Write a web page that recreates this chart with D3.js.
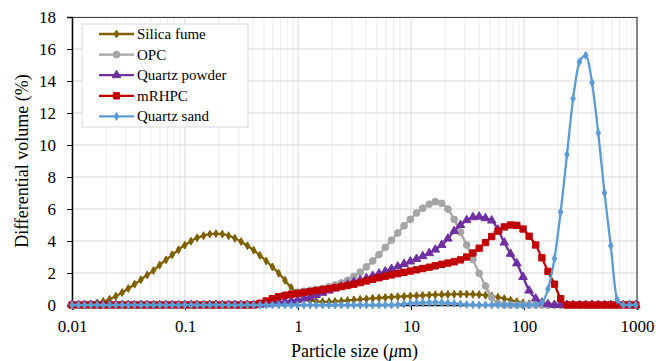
<!DOCTYPE html>
<html lang="en">
    <head>
        <style>
            body { margin: 0; background: #fff; }
            svg text { font-family: "Liberation Serif", "Times New Roman", Times, serif; fill: #000; }
        </style>
        <script src="https://d3js.org/d3.v7.min.js"></script>
        <title>Particle size distribution</title>
    </head>
    <body>
        <div id="chart"></div>
        <script>
            // particle size bins (um)
            var sizes = [
                0.0100, 0.0114, 0.0129, 0.0147, 0.0167, 0.0189, 0.0215, 0.0244, 0.0278, 0.0315,
                0.0358, 0.0407, 0.0463, 0.0526, 0.0597, 0.0679, 0.0771, 0.0876, 0.0995, 0.113,
                0.128, 0.146, 0.166, 0.188, 0.214, 0.243, 0.276, 0.314, 0.357, 0.405,
                0.460, 0.523, 0.594, 0.675, 0.767, 0.872, 0.991, 1.13, 1.28, 1.45,
                1.65, 1.88, 2.13, 2.42, 2.75, 3.12, 3.55, 4.03, 4.58, 5.21,
                5.92, 6.72, 7.64, 8.68, 9.86, 11.2, 12.7, 14.5, 16.4, 18.7,
                21.2, 24.1, 27.4, 31.1, 35.3, 40.1, 45.6, 51.8, 58.9, 66.9,
                76.0, 86.4, 98.1, 111, 127, 144, 163, 186, 211, 240,
                272, 310, 352, 400, 454, 516, 586, 666, 756, 859,
                976
            ];

            var silicaFume = [
                0, 0, 0.02, 0.06, 0.13, 0.22, 0.36, 0.55, 0.78, 1.03,
                1.3, 1.58, 1.88, 2.15, 2.5, 2.82, 3.14, 3.45, 3.74, 3.99,
                4.2, 4.33, 4.43, 4.46, 4.43, 4.33, 4.17, 3.96, 3.7, 3.42,
                3.1, 2.75, 2.38, 1.98, 1.55, 1.08, 0.72, 0.46, 0.3, 0.22,
                0.2, 0.2, 0.22, 0.25, 0.28, 0.32, 0.35, 0.38, 0.41, 0.44,
                0.47, 0.5, 0.52, 0.54, 0.56, 0.58, 0.6, 0.62, 0.64, 0.65,
                0.66, 0.67, 0.68, 0.68, 0.67, 0.65, 0.61, 0.56, 0.48, 0.4,
                0.3, 0.21, 0.13, 0.07, 0.03, 0.01, 0, 0, 0, 0,
                0, 0, 0, 0, 0, 0, 0, 0, 0, 0,
                0
            ];

            var opc = [
                0, 0, 0, 0, 0, 0, 0, 0, 0, 0,
                0, 0, 0, 0, 0, 0, 0, 0, 0, 0,
                0, 0, 0, 0, 0, 0, 0, 0, 0, 0.03,
                0.1, 0.22, 0.36, 0.5, 0.62, 0.72, 0.8, 0.86, 0.92, 0.98,
                1.05, 1.14, 1.25, 1.38, 1.55, 1.78, 2.05, 2.38, 2.75, 3.15,
                3.6, 4.05, 4.5, 4.95, 5.35, 5.75, 6.05, 6.3, 6.46, 6.35,
                6.0, 5.35, 4.55, 3.75, 2.85, 1.98, 1.19, 0.48, 0.1, 0,
                0, 0, 0, 0, 0, 0, 0, 0, 0, 0,
                0, 0, 0, 0, 0, 0, 0, 0, 0, 0,
                0
            ];

            var quartzPowder = [
                0, 0, 0, 0, 0, 0, 0, 0, 0, 0,
                0, 0, 0, 0, 0, 0, 0, 0, 0, 0,
                0, 0, 0, 0, 0, 0, 0, 0, 0, 0,
                0.02, 0.05, 0.1, 0.15, 0.2, 0.26, 0.32, 0.4, 0.5, 0.62,
                0.76, 0.9, 1.03, 1.15, 1.28, 1.42, 1.55, 1.68, 1.82, 1.96,
                2.1, 2.25, 2.4, 2.56, 2.72, 2.88, 3.05, 3.24, 3.46, 3.75,
                4.15, 4.62, 5.0, 5.3, 5.48, 5.52, 5.42, 5.28, 4.7, 3.9,
                3.2, 2.6, 1.75, 0.9, 0.4, 0.15, 0.05, 0, 0, 0,
                0, 0, 0, 0, 0, 0, 0, 0, 0, 0,
                0
            ];

            var mrhpc = [
                0, 0, 0, 0, 0, 0, 0, 0, 0, 0,
                0, 0, 0, 0, 0, 0, 0, 0, 0, 0,
                0, 0, 0, 0, 0, 0, 0, 0, 0, 0,
                0.1, 0.25, 0.4, 0.52, 0.6, 0.67, 0.73, 0.79, 0.84, 0.9,
                0.95, 1.02, 1.08, 1.15, 1.22, 1.3, 1.4, 1.5, 1.6, 1.7,
                1.8, 1.88, 1.96, 2.04, 2.12, 2.2, 2.28, 2.36, 2.45, 2.54,
                2.62, 2.7, 2.82, 3.0, 3.25, 3.55, 3.9, 4.28, 4.62, 4.88,
                5.0, 4.98, 4.75, 4.3, 3.75, 2.95, 2.1, 1.3, 0.4, 0,
                0, 0, 0, 0, 0, 0, 0, 0, 0, 0,
                0
            ];

            var quartzSand = [
                0, 0, 0, 0, 0, 0, 0, 0, 0, 0,
                0, 0, 0, 0, 0, 0, 0, 0, 0, 0,
                0, 0, 0, 0, 0, 0, 0, 0, 0, 0,
                0, 0, 0, 0, 0, 0, 0, 0, 0, 0,
                0, 0, 0, 0, 0, 0, 0, 0, 0, 0,
                0, 0, 0.02, 0.06, 0.1, 0.13, 0.15, 0.16, 0.16, 0.15,
                0.13, 0.1, 0.06, 0.03, 0.01, 0, 0, 0, 0, 0,
                0, 0, 0, 0, 0.02, 0.15, 1.0, 2.9, 5.8, 9.4,
                12.9, 15.2, 15.6, 13.9, 10.75, 7.0, 3.7, 0.35, 0, 0,
                0
            ];

            var seriesNames = ["Silica fume", "OPC", "Quartz powder", "mRHPC", "Quartz sand"];
            var seriesValues = [silicaFume, opc, quartzPowder, mrhpc, quartzSand];
            var colors = ["#7f6000", "#a5a5a5", "#7030a0", "#c00000", "#5b9bd5"];
            var symbols = [d3.symbolDiamond, d3.symbolCircle, d3.symbolTriangle, d3.symbolSquare, d3.symbolDiamond];
            var symbolSizes = [18, 36, 32, 40, 18];

            var xTicks = [0.01, 0.1, 1, 10, 100, 1000];
            var xTickLabels = ["0.01", "0.1", "1", "10", "100", "1000"];
            var yTicks = [0, 2, 4, 6, 8, 10, 12, 14, 16, 18];

            var margin = {top: 17, right: 19, bottom: 56, left: 72},
                width = 656 - margin.left - margin.right,
                height = 361 - margin.top - margin.bottom;

            var svg = d3.select("#chart")
                .append("svg")
                    .attr("width", 656)
                    .attr("height", 361)
                .append("g")
                    .attr("transform", "translate(" + margin.left + "," + margin.top + ")");

            var x = d3.scaleLog()
                .domain([0.01, 1000])
                .range([0, width]);

            var y = d3.scaleLinear()
                .domain([0, 18])
                .range([height, 0]);

            // minor vertical grid
            var minor = [];
            xTicks.slice(0, -1).forEach(function(t) {
                for (var k = 2; k < 10; k++) minor.push(t * k);
            });
            svg.append("g")
                .selectAll("line")
                .data(minor)
                .enter()
                .append("line")
                    .attr("x1", function(d) { return x(d); })
                    .attr("x2", function(d) { return x(d); })
                    .attr("y1", 0)
                    .attr("y2", height)
                    .attr("stroke", "#ececec")
                    .attr("stroke-width", 1);

            // major grid
            svg.append("g")
                .selectAll("line")
                .data(xTicks)
                .enter()
                .append("line")
                    .attr("x1", function(d) { return x(d); })
                    .attr("x2", function(d) { return x(d); })
                    .attr("y1", 0)
                    .attr("y2", height)
                    .attr("stroke", "#d9d9d9")
                    .attr("stroke-width", 1);

            svg.append("g")
                .selectAll("line")
                .data(yTicks)
                .enter()
                .append("line")
                    .attr("x1", 0)
                    .attr("x2", width)
                    .attr("y1", function(d) { return y(d); })
                    .attr("y2", function(d) { return y(d); })
                    .attr("stroke", "#d9d9d9")
                    .attr("stroke-width", 1);

            // plot frame (top and right)
            svg.append("path")
                .attr("d", "M0,0.5H" + width + "V" + height)
                .attr("fill", "none")
                .attr("stroke", "#404040")
                .attr("stroke-width", 1.2);

            // axes
            var xAxis = svg.append("g")
                .attr("transform", "translate(0," + height + ")")
                .call(d3.axisBottom(x)
                    .tickValues(xTicks)
                    .tickFormat(function(d, i) { return xTickLabels[i]; })
                    .tickSize(5)
                    .tickPadding(10));

            var yAxis = svg.append("g")
                .call(d3.axisLeft(y)
                    .tickValues(yTicks)
                    .tickSize(5)
                    .tickPadding(11));

            [xAxis, yAxis].forEach(function(a) {
                a.attr("font-family", null).attr("font-size", null);
                a.select(".domain").attr("stroke", "#000").attr("stroke-width", 1.5);
                a.selectAll(".tick line").attr("stroke", "#000");
                a.selectAll(".tick text").style("font-size", "17px");
            });

            // series
            var line = d3.line()
                .x(function(d) { return x(d[0]); })
                .y(function(d) { return y(d[1]); })
                .curve(d3.curveMonotoneX);

            seriesValues.forEach(function(vals, s) {
                var pts = sizes.map(function(sz, i) { return [sz, vals[i]]; });
                var g = svg.append("g");
                g.append("path")
                    .datum(pts)
                    .attr("d", line)
                    .attr("fill", "none")
                    .attr("stroke", colors[s])
                    .attr("stroke-width", 2.3);
                g.selectAll("path.mk")
                    .data(pts)
                    .enter()
                    .append("path")
                        .attr("class", "mk")
                        .attr("transform", function(d) { return "translate(" + x(d[0]) + "," + y(d[1]) + ")"; })
                        .attr("d", d3.symbol().type(symbols[s]).size(symbolSizes[s]))
                        .attr("fill", colors[s])
                        .attr("stroke", colors[s])
                        .attr("stroke-width", 1);
            });

            // legend
            var legend = svg.append("g")
                .attr("transform", "translate(10,7)");
            legend.append("rect")
                .attr("x", 0)
                .attr("y", 0)
                .attr("width", 166)
                .attr("height", 103)
                .attr("fill", "#fff")
                .attr("stroke", "#d9d9d9")
                .attr("stroke-width", 1);

            seriesNames.forEach(function(name, s) {
                var ly = 10 + s * 20.6;
                var row = legend.append("g").attr("transform", "translate(0," + ly + ")");
                row.append("line")
                    .attr("x1", 17)
                    .attr("x2", 52)
                    .attr("y1", 0)
                    .attr("y2", 0)
                    .attr("stroke", colors[s])
                    .attr("stroke-width", 2.3);
                row.append("path")
                    .attr("transform", "translate(34.5,0)")
                    .attr("d", d3.symbol().type(symbols[s]).size(symbolSizes[s]))
                    .attr("fill", colors[s])
                    .attr("stroke", colors[s]);
                row.append("text")
                    .attr("x", 55)
                    .attr("y", 5)
                    .style("font-size", "15px")
                    .text(name);
            });

            // axis titles
            svg.append("text")
                .attr("x", width / 2)
                .attr("y", height + 52)
                .attr("text-anchor", "middle")
                .style("font-size", "18px")
                .html('Particle size (<tspan font-style="italic">\u03bc</tspan>m)');

            svg.append("text")
                .attr("transform", "translate(-44," + (height / 2) + ") rotate(-90)")
                .attr("text-anchor", "middle")
                .style("font-size", "18px")
                .text("Differential volume (%)");
        </script>
    </body>
</html>
